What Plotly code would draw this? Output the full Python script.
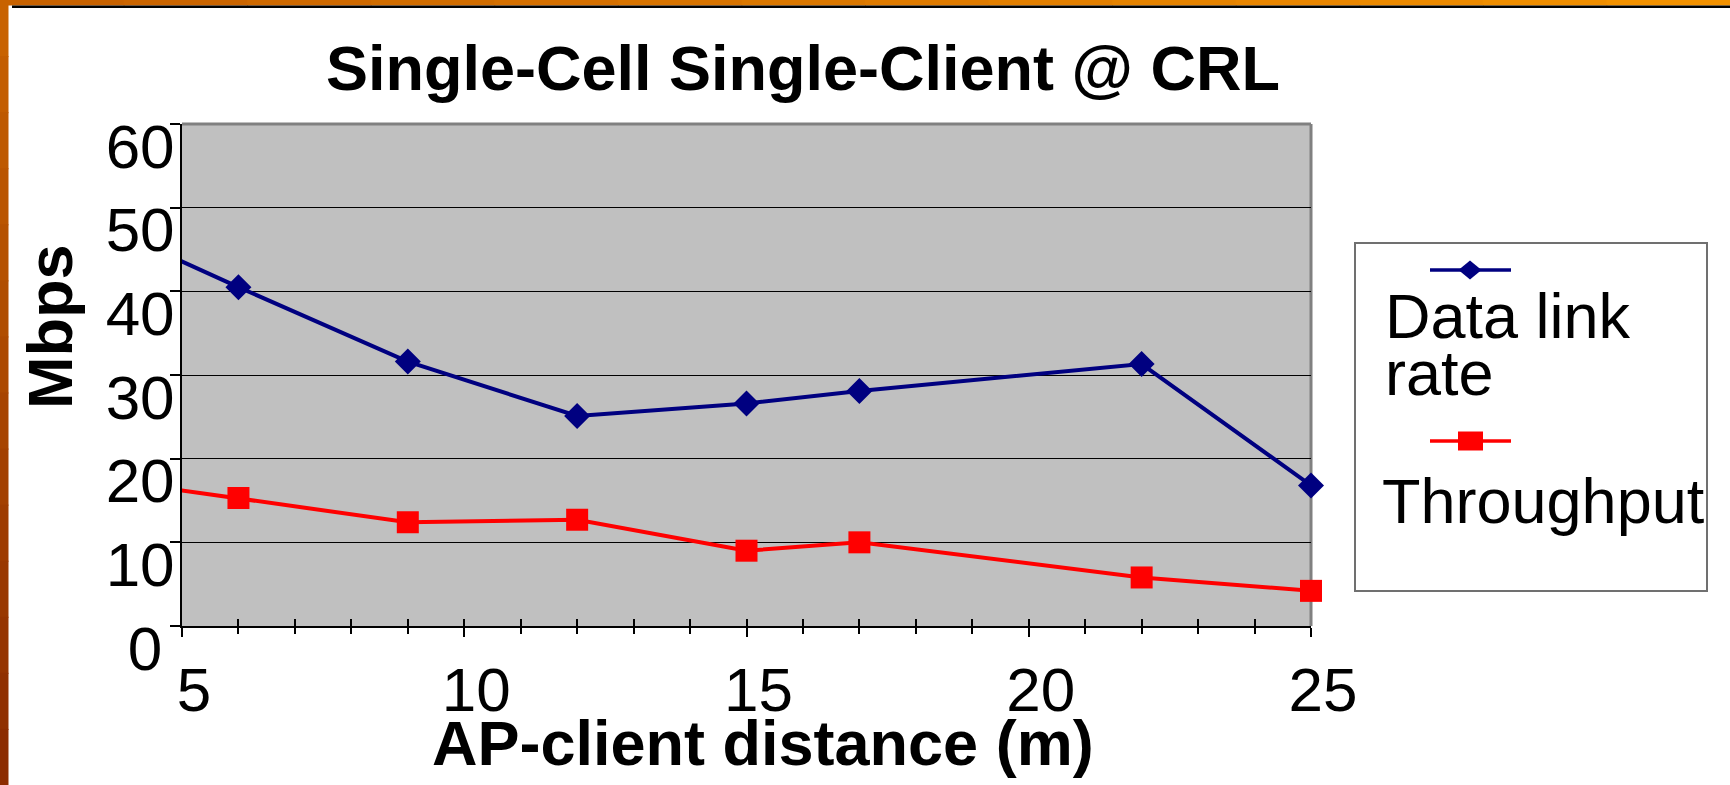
import plotly.graph_objects as go

# ---------------- data ----------------
distance = [3, 6, 9, 12, 15, 17, 22, 25]
data_link_rate = [49.7, 40.5, 31.6, 25.1, 26.6, 28.1, 31.3, 16.8]
throughput = [18.1, 15.3, 12.4, 12.7, 9.0, 10.0, 5.8, 4.2]
series_names = ["Data link", "rate", "Throughput"]
x_range = [5, 25]
y_range = [0, 60]
y_tickvals = [0, 10, 20, 30, 40, 50, 60]
y_ticktext = ["0\u2009", "10", "20", "30", "40", "50", "60"]
title_text = "Single-Cell Single-Client @ CRL"
x_title = "AP-client distance (m)"
y_title = "Mbps"

# ---------------- geometry helpers ----------------
W, H = 1730, 785
L, R, T, B = 182, 1311, 124, 626


def px(x):
    return (x - L) / (R - L)


def py(y):
    return (B - y) / (B - T)


BLUE = "#000080"
RED = "#FF0000"
FONT = "Liberation Sans"

fig = go.Figure()

in_range = [i for i, d in enumerate(distance) if x_range[0] <= d <= x_range[1]]

# lines (clipped to plot area)
fig.add_trace(go.Scatter(x=distance, y=data_link_rate, mode="lines",
                         line=dict(color=BLUE, width=4), showlegend=False, hoverinfo="skip"))
fig.add_trace(go.Scatter(x=distance, y=throughput, mode="lines",
                         line=dict(color=RED, width=4), showlegend=False, hoverinfo="skip"))
# markers (not clipped)
fig.add_trace(go.Scatter(x=[distance[i] for i in in_range], y=[data_link_rate[i] for i in in_range],
                         mode="markers", cliponaxis=False, showlegend=False,
                         marker=dict(symbol="diamond", size=20, color=BLUE, line=dict(width=0))))
fig.add_trace(go.Scatter(x=[distance[i] for i in in_range], y=[throughput[i] for i in in_range],
                         mode="markers", cliponaxis=False, showlegend=False,
                         marker=dict(symbol="square", size=22, color=RED, line=dict(width=0))))
# dummy trace for the overlay axis carrying inward ticks
fig.add_trace(go.Scatter(x=[None], y=[None], xaxis="x2", showlegend=False, hoverinfo="skip"))

shapes = []
# slide decoration: left strip and top strip
n = 14
for k in range(n):
    t = k / (n - 1)
    r = int(200 + (140 - 200) * t)
    g = int(98 + (44 - 98) * t)
    shapes.append(dict(type="rect", xref="paper", yref="paper", layer="below",
                       x0=px(0), x1=px(8.5), y0=py(k * H / n), y1=py((k + 1) * H / n + 1),
                       fillcolor=f"rgb({r},{g},0)", line=dict(width=0)))
for k in range(n):
    t = k / (n - 1)
    r = int(200 + (243 - 200) * t)
    g = int(98 + (146 - 98) * t)
    shapes.append(dict(type="rect", xref="paper", yref="paper", layer="below",
                       x0=px(k * W / n), x1=px((k + 1) * W / n + 1), y0=py(0), y1=py(5.5),
                       fillcolor=f"rgb({r},{g},0)", line=dict(width=0)))
shapes.append(dict(type="rect", xref="paper", yref="paper", layer="below",
                   x0=px(12), x1=px(W), y0=py(5.5), y1=py(8),
                   fillcolor="black", line=dict(width=0)))

# plot area border (top and right, gray)
shapes.append(dict(type="line", xref="x domain", yref="y domain", layer="below",
                   x0=0, x1=1, y0=1, y1=1, line=dict(color="#808080", width=3)))
shapes.append(dict(type="line", xref="x domain", yref="y domain", layer="below",
                   x0=1, x1=1, y0=0, y1=1, line=dict(color="#808080", width=3)))

# legend box
shapes.append(dict(type="rect", xref="paper", yref="paper", layer="above",
                   x0=px(1355), x1=px(1707), y0=py(591), y1=py(243),
                   fillcolor="white", line=dict(color="#707070", width=2)))
# legend symbol: data link rate
shapes.append(dict(type="line", xref="paper", yref="paper", layer="above",
                   x0=px(1430), x1=px(1511), y0=py(270), y1=py(270),
                   line=dict(color=BLUE, width=3.5)))
cx, cy, hw, hh = 1470, 270, 11.5, 9.5
shapes.append(dict(type="path", xref="paper", yref="paper", layer="above",
                   path=(f"M {px(cx - hw)},{py(cy)} L {px(cx)},{py(cy - hh)} "
                         f"L {px(cx + hw)},{py(cy)} L {px(cx)},{py(cy + hh)} Z"),
                   fillcolor=BLUE, line=dict(width=0)))
# legend symbol: throughput
shapes.append(dict(type="line", xref="paper", yref="paper", layer="above",
                   x0=px(1430), x1=px(1511), y0=py(441), y1=py(441),
                   line=dict(color=RED, width=3.5)))
shapes.append(dict(type="rect", xref="paper", yref="paper", layer="above",
                   x0=px(1458), x1=px(1483), y0=py(450.5), y1=py(431.5),
                   fillcolor=RED, line=dict(width=0)))


def mid(baseline, size):
    return baseline - 0.3465 * size


annotations = [
    dict(text=f"<b>{title_text}</b>", xref="paper", yref="paper", showarrow=False,
         x=px(803), y=py(mid(90, 63)), xanchor="center", yanchor="middle",
         font=dict(family=FONT, size=63, color="black")),
    dict(text=f"<b>{x_title}</b>", xref="paper", yref="paper", showarrow=False,
         x=px(763), y=py(mid(765, 63)), xanchor="center", yanchor="middle",
         font=dict(family=FONT, size=63, color="black")),
    dict(text=f"<b>{y_title}</b>", xref="paper", yref="paper", showarrow=False,
         x=px(50), y=py(327), xanchor="center", yanchor="middle", textangle=-90,
         font=dict(family=FONT, size=63, color="black")),
    dict(text=series_names[0], xref="paper", yref="paper", showarrow=False,
         x=px(1383), y=py(mid(338, 63)), xanchor="left", yanchor="middle",
         font=dict(family=FONT, size=63, color="black")),
    dict(text=series_names[1], xref="paper", yref="paper", showarrow=False,
         x=px(1383), y=py(mid(395, 63)), xanchor="left", yanchor="middle",
         font=dict(family=FONT, size=63, color="black")),
    dict(text=series_names[2], xref="paper", yref="paper", showarrow=False,
         x=px(1380), y=py(mid(523, 63)), xanchor="left", yanchor="middle",
         font=dict(family=FONT, size=63, color="black")),
]

fig.update_layout(
    width=W, height=H,
    margin=dict(l=L, r=W - R, t=T, b=H - B, pad=0),
    paper_bgcolor="white",
    plot_bgcolor="#C0C0C0",
    showlegend=False,
    shapes=shapes,
    annotations=annotations,
    xaxis=dict(range=x_range, tickmode="linear", tick0=5, dtick=5,
               ticks="outside", ticklen=9, tickwidth=1.5, tickcolor="black",
               minor=dict(tickmode="linear", tick0=5, dtick=1, ticks="outside",
                          ticklen=6, tickwidth=1.5, tickcolor="black", showgrid=False),
               showgrid=False, zeroline=False, showline=True, linecolor="black", linewidth=2,
               tickfont=dict(family=FONT, size=62, color="black"),
               ticklabelshift=12, ticklabelstandoff=0),
    xaxis2=dict(overlaying="x", anchor="y", side="bottom", range=x_range,
                tickmode="linear", tick0=5, dtick=1, ticks="inside", ticklen=7,
                tickwidth=1.5, tickcolor="black", showticklabels=False,
                showgrid=False, zeroline=False, showline=False),
    yaxis=dict(range=y_range, tickmode="array", tickvals=y_tickvals, ticktext=y_ticktext,
               ticks="outside", ticklen=10, tickwidth=1.5, tickcolor="black",
               showgrid=True, gridcolor="black", gridwidth=1.3, zeroline=False,
               showline=True, linecolor="black", linewidth=2,
               tickfont=dict(family=FONT, size=62, color="black"),
               ticklabelshift=22, ticklabelstandoff=-17),
)

fig.write_html("out.html")
